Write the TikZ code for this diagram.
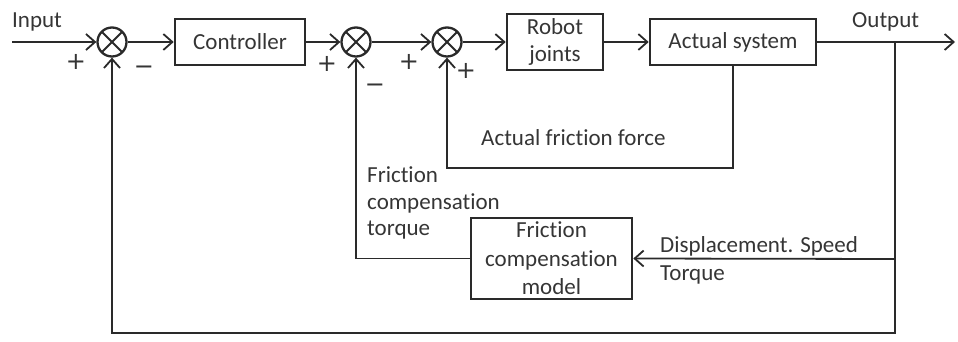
\documentclass[tikz,border=0pt]{standalone}
\usepackage{fontspec}
\setmainfont{Carlito}[Ligatures={NoCommon}]
\newfontfamily\signfont{DejaVu Sans}
\usetikzlibrary{arrows.meta,calc}

\definecolor{ink}{HTML}{2A2A2A}
\definecolor{txt}{HTML}{353535}

\tikzset{
  lbl/.style={font=\fontsize{23}{27}\selectfont, text=txt, inner sep=0pt},
  block/.style={draw=ink, line width=2.6pt, inner sep=0pt, align=center,
    font=\fontsize{23}{27}\selectfont, text=txt},
  sumnode/.style={circle, draw=ink, line width=2.3pt, minimum size=29pt, inner sep=0pt,
    path picture={
      \draw[ink, line width=2pt] (path picture bounding box.center) ++(45:14.5pt) -- ++(225:29pt);
      \draw[ink, line width=2pt] (path picture bounding box.center) ++(135:14.5pt) -- ++(315:29pt);
    }},
  sign/.style={font=\signfont\fontsize{24}{24}\selectfont, text=txt, inner sep=0pt},
  conn/.style={draw=ink, line width=1.8pt},
  arr/.style={conn, -{Straight Barb[length=9pt,width=16pt,line width=1.8pt]}},
}

\begin{document}
\begin{tikzpicture}[x=1pt, y=-1pt]
  \useasboundingbox (0,0) rectangle (958,342);

  % summing junctions
  \node[sumnode] (s1) at (112,42) {};
  \node[sumnode] (s2) at (356,42) {};
  \node[sumnode] (s3) at (447,42) {};

  % blocks
  \node[block, minimum width=130pt, minimum height=46pt] (ctrl) at (240,42) {Controller};
  \node[block, minimum width=96pt, minimum height=56pt] (robot) at (555,42) {Robot\\joints};
  \node[block, minimum width=166pt, minimum height=46pt] (plant) at (733,42) {Actual system};
  \node[block, minimum width=161pt, minimum height=81pt,
        font=\fontsize{23}{28.5}\selectfont] (fcm) at (551.5,258.5) {Friction\\compensation\\model};

  % free ends and corners
  \coordinate (in) at (12,42);
  \coordinate (out) at (955,42);
  \coordinate (tap) at (895,42);
  \coordinate (tapd) at (895,259);
  \coordinate (fbcorner) at (895,333);
  \coordinate (floop) at (733,168);

  % forward path
  \draw[arr] (in) -- (s1.west);
  \draw[arr] (s1.east) -- (ctrl.west);
  \draw[arr] (ctrl.east) -- (s2.west);
  \draw[arr] (s2.east) -- (s3.west);
  \draw[arr] (s3.east) -- (robot.west);
  \draw[arr] (robot.east) -- (plant.west);
  \draw[arr] (plant.east) -- (out);

  % feedback paths
  \draw[arr] (tap) -- (fbcorner) -| (s1.south);
  \draw[arr] (plant.south) -- (floop) -| (s3.south);
  \draw[arr] (tapd) -- (fcm.east);
  \draw[arr] (fcm.west) -| (s2.south);

  % labels
  \node[lbl, anchor=base west] (linput) at (12,28) {Input};
  \node[lbl, anchor=base west] (loutput) at (852,28) {Output};
  \node[lbl, anchor=base west] (lfric) at (481,146) {Actual friction force};
  \node[lbl, anchor=base west] (lfct1) at (367,182) {Friction};
  \node[lbl, anchor=base west] (lfct2) at (367,209) {compensation};
  \node[lbl, anchor=base west] (lfct3) at (367,235) {torque};
  \node[lbl, anchor=base west] (ldisp) at (660,252) {Displacement. Speed};
  \node[lbl, anchor=base west] (ltorq) at (660,280) {Torque};

  % signs at the junctions
  \node[sign] (p1) at (76,62) {+};
  \node[sign] (m1) at (144,70) {−};
  \node[sign] (p2) at (327,64) {+};
  \node[sign] (m2) at (375,88) {−};
  \node[sign] (p3) at (409,62) {+};
  \node[sign] (p4) at (466,71) {+};
\end{tikzpicture}
\end{document}
